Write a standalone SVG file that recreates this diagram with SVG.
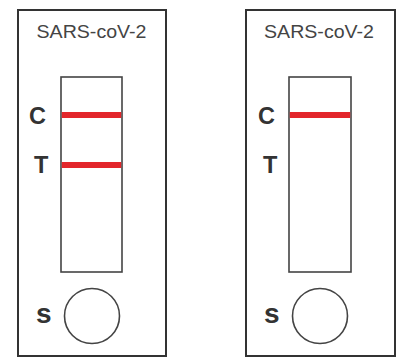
<svg xmlns="http://www.w3.org/2000/svg" width="401" height="358" viewBox="0 0 401 358">
<style>
.card{fill:#fff;stroke:#333;stroke-width:2}
.win{fill:#fff;stroke:#444;stroke-width:1.6}
.well{fill:#fff;stroke:#444;stroke-width:1.6}
.line{stroke:#e3262b;stroke-width:6}
.title{font-family:"Liberation Sans",Arial,sans-serif;font-size:19px;fill:#444;text-anchor:middle}
.lbl{font-family:"Liberation Sans",Arial,sans-serif;font-weight:bold;fill:#333}
</style>
<rect width="401" height="358" fill="#fff"/>
<g id="test-positive">
<rect class="card" x="18" y="10" width="148" height="346"/>
<text class="title" x="91.5" y="38" textLength="110" lengthAdjust="spacingAndGlyphs">SARS-coV-2</text>
<rect class="win" x="61" y="77" width="61" height="195"/>
<line class="line" x1="61.8" y1="115" x2="121.2" y2="115"/>
<line class="line" x1="61.8" y1="165" x2="121.2" y2="165"/>
<text class="lbl" x="29" y="124" font-size="23.5">C</text>
<text class="lbl" x="34" y="173" font-size="23.5">T</text>
<circle class="well" cx="92" cy="316" r="27.5"/>
<text class="lbl" x="36" y="323" font-size="28">s</text>
</g>
<g id="test-negative">
<rect class="card" x="246" y="10" width="149" height="346"/>
<text class="title" x="319" y="38" textLength="110" lengthAdjust="spacingAndGlyphs">SARS-coV-2</text>
<rect class="win" x="289" y="77" width="62" height="195"/>
<line class="line" x1="289.8" y1="115" x2="350.2" y2="115"/>
<text class="lbl" x="258" y="124" font-size="23.5">C</text>
<text class="lbl" x="263" y="173" font-size="23.5">T</text>
<circle class="well" cx="320" cy="316" r="27.5"/>
<text class="lbl" x="264" y="323" font-size="28">s</text>
</g>
<g id="connectors"></g>
</svg>
